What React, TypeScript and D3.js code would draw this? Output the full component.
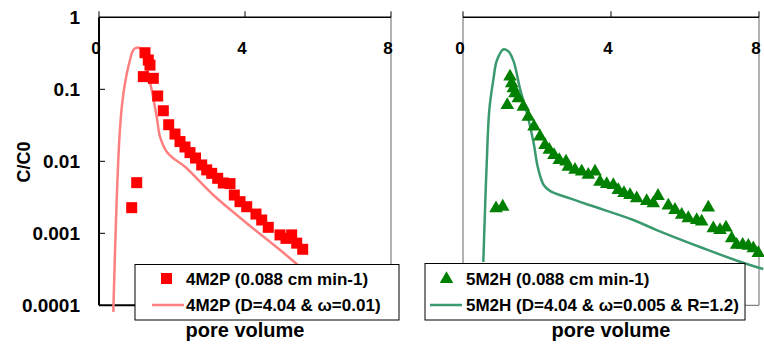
import React from "react";
import * as d3 from "d3";

// measured data, left panel (4M2P)
const obs4M2P: [number, number][] = [
  [0.896, 0.00227], [1.033, 0.00505], [1.214, 0.15], [1.26, 0.322], [1.351, 0.255],
  [1.397, 0.217], [1.488, 0.142], [1.608, 0.0807], [1.762, 0.0504], [1.91, 0.0322],
  [2.082, 0.0239], [2.219, 0.0188], [2.356, 0.0158], [2.493, 0.0132], [2.644, 0.0111],
  [2.814, 0.0089], [2.951, 0.0076], [3.088, 0.0068], [3.252, 0.0058], [3.405, 0.005],
  [3.589, 0.0049], [3.707, 0.0034], [3.863, 0.00275], [4.047, 0.00234], [4.301, 0.00185],
  [4.458, 0.00153], [4.638, 0.00121], [4.959, 0.00095], [5.123, 0.00085], [5.279, 0.00095],
  [5.416, 0.00073], [5.581, 0.0006],
];

const model4M2P: [number, number][] = [
  [0.392, 0.000081], [0.466, 0.00153], [0.556, 0.0198], [0.63, 0.0605], [0.712, 0.121],
  [0.849, 0.255], [0.94, 0.352], [1.033, 0.378], [1.123, 0.371], [1.219, 0.3],
  [1.307, 0.206], [1.444, 0.0978], [1.581, 0.0416], [1.671, 0.022], [1.855, 0.0136],
  [2.036, 0.011], [2.356, 0.0084], [3.132, 0.0034], [4.047, 0.00138], [5.233, 0.00045],
  [6.493, 0.000119],
];

// right panel (5M2H)
const obs5M2H: [number, number][] = [
  [0.892, 0.00222], [1.073, 0.00234], [1.197, 0.0605], [1.27, 0.15], [1.316, 0.121],
  [1.359, 0.103], [1.405, 0.088], [1.495, 0.075], [1.63, 0.0573], [1.765, 0.0416],
  [1.919, 0.0303], [2.081, 0.022], [2.216, 0.0168], [2.332, 0.0144], [2.459, 0.0122],
  [2.603, 0.0104], [2.784, 0.0099], [2.846, 0.0084], [3.027, 0.0076], [3.208, 0.0072],
  [3.386, 0.0065], [3.568, 0.0072], [3.703, 0.0052], [3.884, 0.00484], [4.062, 0.00469],
  [4.197, 0.00399], [4.351, 0.00363], [4.514, 0.0034], [4.695, 0.00306], [4.965, 0.00281],
  [5.143, 0.00261], [5.27, 0.0033], [5.549, 0.00243], [5.73, 0.00211], [5.911, 0.0018],
  [6.089, 0.00162], [6.316, 0.00153], [6.451, 0.00145], [6.63, 0.00228], [6.765, 0.00117],
  [6.946, 0.00111], [7.108, 0.0012], [7.262, 0.00085], [7.397, 0.00069], [7.559, 0.00069],
  [7.711, 0.00067], [7.846, 0.00062], [7.981, 0.00053],
];

const model5M2H: [number, number][] = [
  [0.549, 0.0004], [0.595, 0.00211], [0.641, 0.0094], [0.711, 0.0516], [0.819, 0.135],
  [0.919, 0.255], [1.1, 0.36], [1.235, 0.333], [1.37, 0.242], [1.549, 0.098],
  [1.73, 0.0464], [1.911, 0.0178], [2.019, 0.0084], [2.181, 0.00469], [2.359, 0.00386],
  [2.892, 0.00306], [3.434, 0.00245], [4.603, 0.00153], [5.235, 0.00111],
  [6.495, 0.00062], [7.486, 0.000403], [8.116, 0.00032],
];

const xTicks = [0, 4, 8];
const yTicks = [1, 0.1, 0.01, 0.001, 0.0001];
const yTickLabels = ["1", "0.1", "0.01", "0.001", "0.0001"];

const legendLeft = ["4M2P (0.088 cm min-1)", "4M2P (D=4.04 & ω=0.01)"];
const legendRight = ["5M2H (0.088 cm min-1)", "5M2H (D=4.04 & ω=0.005 & R=1.2)"];

const FONT = "'Liberation Sans', Arial, sans-serif";
const RED = "#ff0000";
const PINK = "#ff8080";
const GREEN = "#008000";
const TEAL = "#3a9a6e";

const y = d3.scaleLog().domain([0.0001, 1]).range([305.3, 17.3]);
const xL = d3.scaleLinear().domain([0, 8]).range([99, 391]);
const xR = d3.scaleLinear().domain([0, 8]).range([463, 759]);

const App: React.FC = () => {
  const lineL = d3
    .line<[number, number]>()
    .x((d) => xL(d[0]))
    .y((d) => y(d[1]))
    .curve(d3.curveCatmullRom.alpha(0.5));
  const lineR = d3
    .line<[number, number]>()
    .x((d) => xR(d[0]))
    .y((d) => y(d[1]))
    .curve(d3.curveCatmullRom.alpha(0.5));
  const tri = d3.symbol(d3.symbolTriangle, 80)() || "";

  const top = y(1);
  const bottom = y(0.0001);

  return (
    <svg
      width={764}
      height={344}
      style={{ position: "absolute", left: 0, top: 0, background: "#fff" }}
      fontFamily={FONT}
      fontWeight="bold"
    >
      {/* left panel frame */}
      <line x1={xL(8)} x2={xL(8)} y1={top} y2={bottom} stroke="#666" strokeWidth={1} />
      <line x1={xL(0)} x2={xL(8)} y1={top} y2={top} stroke="#000" strokeWidth={1.5} />
      <line x1={xL(0)} x2={xL(0)} y1={top} y2={bottom} stroke="#000" strokeWidth={2} />
      <line x1={xL(0)} x2={xL(8)} y1={bottom} y2={bottom} stroke="#000" strokeWidth={2} />
      {xTicks.map((t) => (
        <g key={"lt" + t}>
          <line x1={xL(t)} x2={xL(t)} y1={top} y2={top - 6} stroke="#000" strokeWidth={1} />
          <text x={xL(t) - 3} y={54} textAnchor="middle" fontSize={17}>
            {t}
          </text>
        </g>
      ))}
      {yTicks.map((t, i) => (
        <g key={"ly" + t}>
          {i > 0 && i < yTicks.length - 1 && (
            <line x1={xL(0)} x2={xL(0) + 6} y1={y(t)} y2={y(t)} stroke="#000" strokeWidth={1} />
          )}
          <text x={80} y={y(t)} dy="0.36em" textAnchor="end" fontSize={19}>
            {yTickLabels[i]}
          </text>
        </g>
      ))}
      <text
        transform={`translate(30,162) rotate(-90)`}
        textAnchor="middle"
        fontSize={18}
      >
        C/C0
      </text>

      {/* right panel frame */}
      <line x1={xR(0)} x2={xR(0)} y1={top} y2={bottom} stroke="#666" strokeWidth={1} />
      <line x1={xR(8)} x2={xR(8)} y1={top} y2={bottom} stroke="#666" strokeWidth={1} />
      <line x1={xR(0)} x2={xR(8)} y1={bottom} y2={bottom} stroke="#666" strokeWidth={1} />
      <line x1={xR(0)} x2={xR(8)} y1={top} y2={top} stroke="#000" strokeWidth={1.5} />
      {xTicks.map((t) => (
        <g key={"rt" + t}>
          <line x1={xR(t)} x2={xR(t)} y1={top} y2={top - 6} stroke="#000" strokeWidth={1} />
          <text x={xR(t) - 3} y={54} textAnchor="middle" fontSize={17}>
            {t}
          </text>
        </g>
      ))}

      {/* model curves */}
      <path d={lineL(model4M2P) || ""} fill="none" stroke={PINK} strokeWidth={2.5} />
      <path d={lineR(model5M2H) || ""} fill="none" stroke={TEAL} strokeWidth={2.5} />

      {/* observed */}
      {obs4M2P.map((d, i) => (
        <rect
          key={"s" + i}
          x={xL(d[0]) - 5.5}
          y={y(d[1]) - 5.5}
          width={11}
          height={11}
          fill={RED}
        />
      ))}
      {obs5M2H.map((d, i) => (
        <path key={"t" + i} d={tri} transform={`translate(${xR(d[0])},${y(d[1])})`} fill={GREEN} />
      ))}

      {/* legends */}
      <rect x={135} y={264.5} width={264} height={55.5} fill="#fff" stroke="#000" strokeWidth={1} />
      <rect x={166.5 - 5.5} y={278.5 - 5.5} width={11} height={11} fill={RED} />
      <text x={186} y={278.5} dy="0.36em" fontSize={17}>
        {legendLeft[0]}
      </text>
      <line x1={152} x2={184} y1={305} y2={305} stroke={PINK} strokeWidth={2.5} />
      <text x={186} y={305} dy="0.36em" fontSize={17}>
        {legendLeft[1]}
      </text>

      <rect x={425} y={263.5} width={320} height={56.5} fill="#fff" stroke="#000" strokeWidth={1} />
      <path d={tri} transform="translate(446.5,279)" fill={GREEN} />
      <text x={466} y={278.5} dy="0.36em" fontSize={17}>
        {legendRight[0]}
      </text>
      <line x1={430} x2={462} y1={305} y2={305} stroke={TEAL} strokeWidth={2.5} />
      <text x={466} y={305} dy="0.36em" fontSize={17}>
        {legendRight[1]}
      </text>

      {/* axis titles */}
      <text x={245} y={337} textAnchor="middle" fontSize={20}>
        pore volume
      </text>
      <text x={611} y={337} textAnchor="middle" fontSize={20}>
        pore volume
      </text>
    </svg>
  );
};

export default App;
